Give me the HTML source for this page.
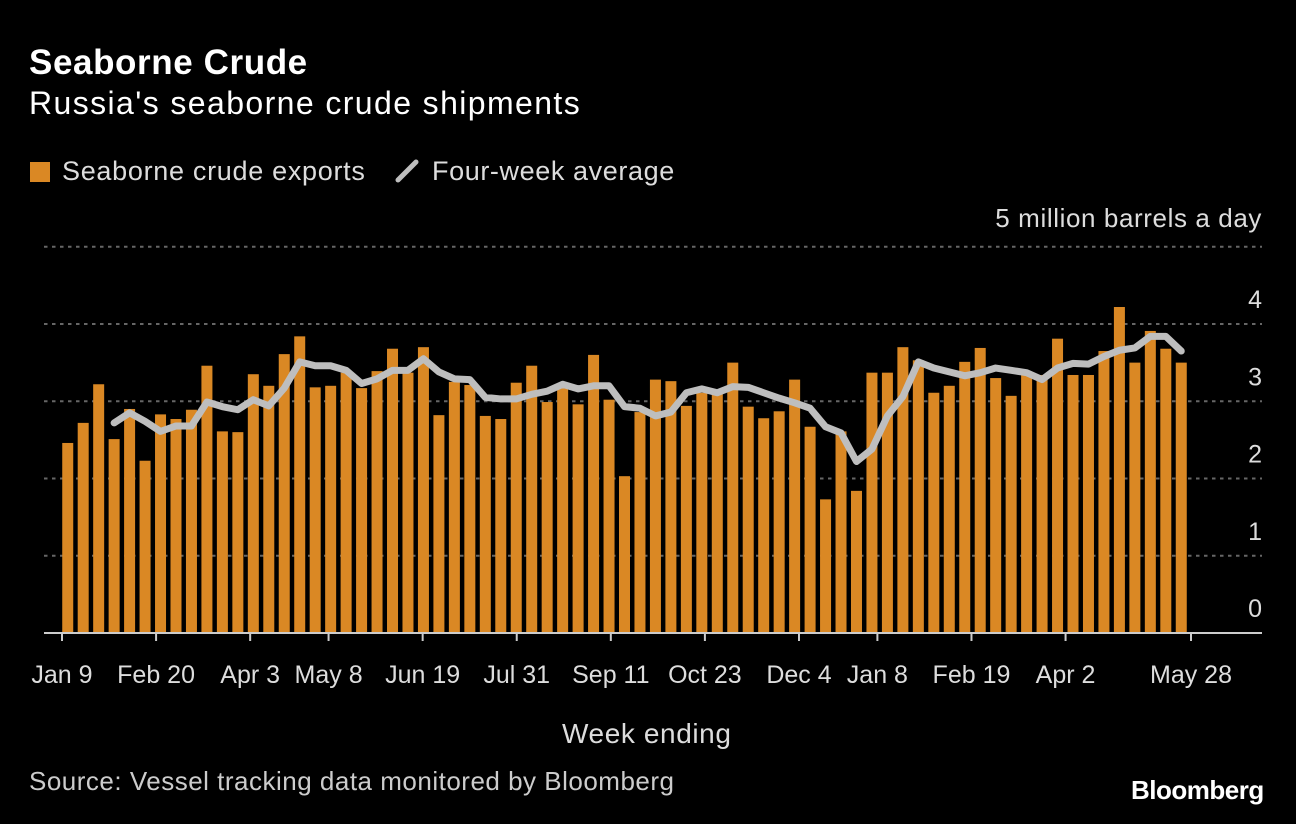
<!DOCTYPE html>
<html><head><meta charset="utf-8"><style>
body{margin:0;background:#000;width:1296px;height:824px;overflow:hidden;font-family:"Liberation Sans",sans-serif;color:#e6e6e6}
.t{position:absolute;white-space:nowrap}
</style></head><body>
<div class="t" style="left:29px;top:43px;font-size:35px;font-weight:bold;color:#fff;letter-spacing:0.6px">Seaborne Crude</div>
<div class="t" style="left:29px;top:85px;font-size:32px;color:#fff;letter-spacing:1.4px">Russia's seaborne crude shipments</div>
<div class="t" style="left:30px;top:156px;font-size:27px;color:#ddd;letter-spacing:0.7px"><span style="display:inline-block;width:20px;height:20px;background:#da8824;vertical-align:-2px;margin-right:12px"></span>Seaborne crude exports</div>
<div class="t" style="left:394px;top:156px;font-size:27px;color:#ddd;letter-spacing:0.6px"><svg width="28" height="26" style="vertical-align:-4px;margin-right:10px"><line x1="4" y1="22" x2="22" y2="4" stroke="#bebebe" stroke-width="5" stroke-linecap="round"/></svg>Four-week average</div>
<div class="t" style="right:34px;top:203px;font-size:26px;color:#ddd;letter-spacing:0.6px">5 million barrels a day</div>
<div class="t" style="left:562px;top:718px;font-size:28px;color:#ddd;letter-spacing:0.6px">Week ending</div>
<div class="t" style="left:29px;top:766px;font-size:26px;color:#ccc;letter-spacing:0.5px">Source: Vessel tracking data monitored by Bloomberg</div>
<div class="t" style="left:1131px;top:775px;font-size:26px;font-weight:bold;color:#fff;letter-spacing:-0.5px">Bloomberg</div>
<svg id="chart" width="1296" height="824" style="position:absolute;left:0;top:0"></svg>
<script>
const exportsVals=[2.46,2.72,3.22,2.51,2.90,2.23,2.83,2.77,2.89,3.46,2.61,2.60,3.35,3.20,3.61,3.84,3.18,3.20,3.37,3.17,3.39,3.68,3.37,3.70,2.82,3.25,3.21,2.81,2.77,3.24,3.46,2.99,3.17,2.96,3.60,3.02,2.03,2.86,3.28,3.26,2.94,3.11,3.11,3.50,2.93,2.78,2.87,3.28,2.67,1.73,2.61,1.84,3.37,3.37,3.70,3.53,3.11,3.20,3.51,3.69,3.30,3.07,3.37,3.34,3.81,3.34,3.34,3.65,4.22,3.50,3.91,3.68,3.50];
const avgVals=[null,null,null,2.72,2.85,2.74,2.61,2.68,2.68,2.99,2.93,2.89,3.02,2.94,3.17,3.51,3.46,3.46,3.40,3.23,3.29,3.40,3.40,3.55,3.38,3.29,3.28,3.05,3.03,3.03,3.09,3.13,3.22,3.16,3.20,3.20,2.93,2.91,2.81,2.86,3.11,3.16,3.11,3.19,3.18,3.11,3.04,2.98,2.91,2.67,2.59,2.22,2.38,2.81,3.06,3.51,3.43,3.38,3.33,3.37,3.43,3.40,3.37,3.28,3.43,3.49,3.48,3.58,3.66,3.69,3.84,3.84,3.65];
const yTicks=[0,1,2,3,4,5];
const xTickLabels=["Jan 9","Feb 20","Apr 3","May 8","Jun 19","Jul 31","Sep 11","Oct 23","Dec 4","Jan 8","Feb 19","Apr 2","May 28"];
const xTickDays=[0,42,84,119,161,203,245,287,329,364,406,448,504];

const NS="http://www.w3.org/2000/svg",svg=document.getElementById('chart');
const X0=62,X1=1191,Y0=633,PU=77.25,N=exportsVals.length,STEP=(X1-X0)/N,BW=11;
const y=v=>Y0-v*PU, bx=i=>X0+i*STEP+(STEP-BW)/2-2, tx=d=>X0+d/504*(X1-X0);
function mk(t,a){const e=document.createElementNS(NS,t);for(const k in a)e.setAttribute(k,a[k]);svg.appendChild(e);return e;}
yTicks.forEach(v=>{
 if(v>0){const g=mk('line',{x1:44,x2:1262,y1:y(v),y2:y(v),stroke:'#666','stroke-width':2,'stroke-dasharray':'3.5 4.5'});
 
 }
 if(v<5){const t=mk('text',{x:1262,y:y(v)-16,'text-anchor':'end','font-size':25,fill:'#ddd','font-family':'Liberation Sans, sans-serif'});t.textContent=v;
 
 }
});
exportsVals.forEach((v,i)=>{
 const r=mk('rect',{x:bx(i),y:y(v),width:BW,height:v*PU,fill:'#da8824'});
 
 
});
let d='';avgVals.forEach((v,i)=>{if(v==null)return;const px=bx(i)+BW/2,py=y(v);d+=(d?'L':'M')+px+' '+py;});
const p=mk('path',{d:d,fill:'none',stroke:'#bebebe','stroke-width':7,'stroke-linejoin':'round','stroke-linecap':'round'});


const ax=mk('line',{x1:44,x2:1262,y1:Y0,y2:Y0,stroke:'#ccc','stroke-width':2});


xTickLabels.forEach((l,i)=>{
 const x=tx(xTickDays[i]);
 const tk=mk('line',{x1:x,x2:x,y1:Y0,y2:Y0+8,stroke:'#ccc','stroke-width':2});
 
 
 const t=mk('text',{x:x,y:683,'text-anchor':'middle','font-size':25,fill:'#ddd','font-family':'Liberation Sans, sans-serif'});t.textContent=l;
 
 
});
</script>
</body></html>
